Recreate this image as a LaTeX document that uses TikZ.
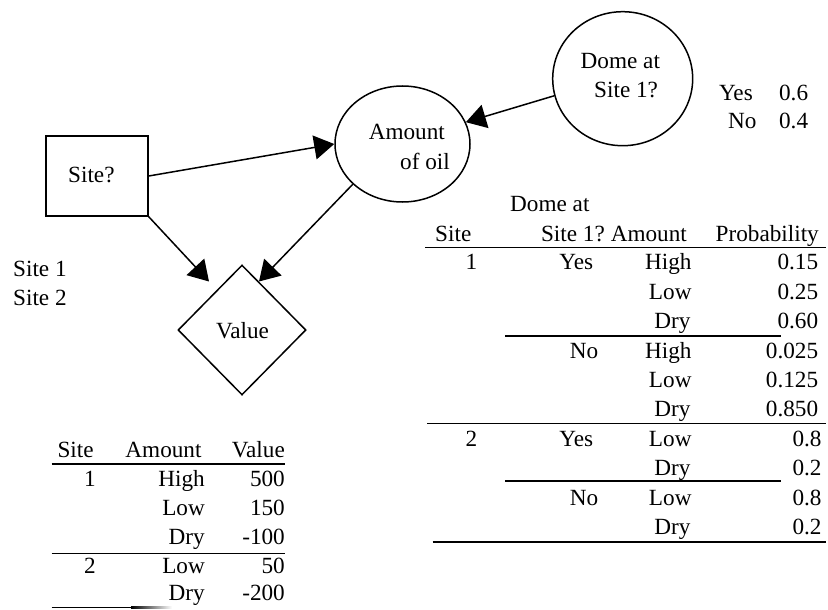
\documentclass[tikz,border=0pt]{standalone}
\usepackage{fontspec}
\setmainfont{Liberation Serif}
\usetikzlibrary{arrows.meta,shapes.geometric}
\begin{document}
\begin{tikzpicture}[x=1pt,y=-1pt,
  txt/.style={inner sep=0pt,font=\fontsize{23.2}{29.5}\selectfont},
  E/.style={txt,anchor=base east},
  W/.style={txt,anchor=base west},
  C/.style={txt,anchor=base},
  shp/.style={draw,line width=1.5pt,inner sep=0pt},
  arr/.style={line width=1.5pt,-{Triangle[length=20pt,width=24pt]}},
  rule/.style={line width=1.6pt}]
\useasboundingbox (0,0) rectangle (828,610);

% ---- diagram nodes
\node[shp,rectangle,minimum width=102pt,minimum height=80pt] (site) at (97,176) {};
\node[shp,ellipse,minimum width=135pt,minimum height=116pt] (amount) at (402.5,144) {};
\node[shp,ellipse,minimum width=140pt,minimum height=134pt] (dome) at (622.7,78.7) {};
\node[shp,diamond,minimum width=128pt,minimum height=130pt] (value) at (242,330) {};

\node[W] (siteT) at (68,182.7) {Site?};
\node[C] (valueT) at (242.5,338.5) {Value};
\node[E] (amountT1) at (445,139.5) {Amount};
\node[E] (amountT2) at (450,169) {of oil};
\node[W] (domeT1) at (580.5,68.3) {Dome at};
\node[W] (domeT2) at (594,97.7) {Site 1?};

\coordinate (v1) at (209,281.5);
\coordinate (v2) at (259,281.5);
\draw[arr] (site.east) -- (amount.west);
\draw[arr] (site.south east) -- (v1);
\draw[arr] (amount.219) -- (v2);
\draw[arr] (dome.194) -- (amount.19);

% ---- Site options
\node[W] (s1) at (13,276.5) {Site 1};
\node[W] (s2) at (13,305.5) {Site 2};

% ---- Dome probabilities
\node[E] (dy) at (753,100) {Yes};
\node[E] (dyp) at (808.3,100) {0.6};
\node[E] (dn) at (756.7,128.5) {No};
\node[E] (dnp) at (808.3,128.5) {0.4};

% ---- right table header
\node[W] (hD) at (510,211.7) {Dome at};
\node[W] (hS) at (435,241) {Site};
\node[E] (hS1) at (605,241) {Site 1?};
\node[E] (hA) at (687,241) {Amount};
\node[E] (hP) at (819,241) {Probability};
\draw[rule] (425,247.5) -- (826,247.5);

% rows
\node[C] (a1) at (471.5,269.5) {1};
\node[E] (b1) at (593.3,269.5) {Yes};
\node[E] (c1) at (691.7,269.5) {High};
\node[E] (d1) at (818.3,269.5) {0.15};
\node[E] (c2) at (691.7,299.5) {Low};
\node[E] (d2) at (818.3,299.5) {0.25};
\node[E] (c3) at (690.7,328.5) {Dry};
\node[E] (d3) at (818.3,328.5) {0.60};
\draw[rule] (505,336) -- (780.7,336);
\node[E] (b4) at (598.3,358.3) {No};
\node[E] (c4) at (691.7,358.3) {High};
\node[E] (d4) at (818.3,358.3) {0.025};
\node[E] (c5) at (691.7,387.5) {Low};
\node[E] (d5) at (818.3,387.5) {0.125};
\node[E] (c6) at (690.7,416.8) {Dry};
\node[E] (d6) at (818.3,416.8) {0.850};
\draw[rule] (427.3,423.5) -- (826,423.5);
\node[C] (a7) at (471.5,446) {2};
\node[E] (b7) at (593.3,446) {Yes};
\node[E] (c7) at (691.7,446) {Low};
\node[E] (d7) at (821.7,446) {0.8};
\node[E] (c8) at (690.7,475.8) {Dry};
\node[E] (d8) at (821.7,475.8) {0.2};
\draw[rule] (505,481) -- (780.7,481);
\node[E] (b9) at (598.3,505) {No};
\node[E] (c9) at (691.7,505) {Low};
\node[E] (d9) at (821.7,505) {0.8};
\node[E] (c10) at (690.7,534.3) {Dry};
\node[E] (d10) at (821.7,534.3) {0.2};
\draw[rule] (432.7,541.7) -- (826,541.7);

% ---- bottom-left table
\node[W] (lhS) at (57.3,457.3) {Site};
\node[E] (lhA) at (201.7,457.3) {Amount};
\node[E] (lhV) at (285,457.3) {Value};
\draw[rule] (51.7,464) -- (285,464);
\node[C] (la1) at (90,486) {1};
\node[E] (lb1) at (205,486) {High};
\node[E] (lc1) at (285,486) {500};
\node[E] (lb2) at (205,515) {Low};
\node[E] (lc2) at (285,515) {150};
\node[E] (lb3) at (205,544) {Dry};
\node[E] (lc3) at (285,544) {-100};
\draw[rule] (51.7,553.3) -- (285,553.3);
\node[C] (la4) at (90,573.5) {2};
\node[E] (lb4) at (205,573.5) {Low};
\node[E] (lc4) at (285,573.5) {50};
\node[E] (lb5) at (205,600) {Dry};
\node[E] (lc5) at (285,600) {-200};
\draw[rule] (51.7,607.5) -- (132,607.5);
\shade[left color=black,right color=white] (131,606.7) rectangle (172,608.3);
\end{tikzpicture}
\end{document}
